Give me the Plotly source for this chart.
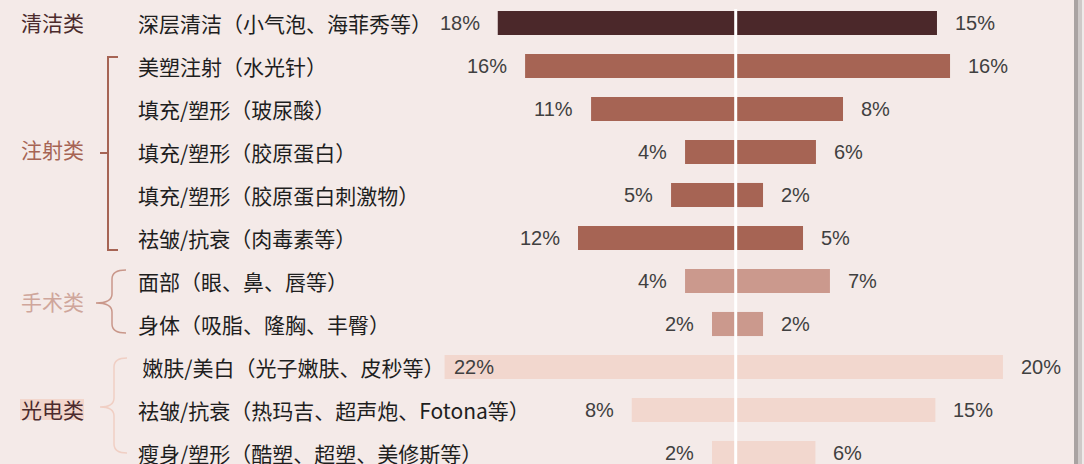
import plotly.graph_objects as go

# ---------------- data ----------------
row_labels = [
    "深层清洁（小气泡、海菲秀等）",
    "美塑注射（水光针）",
    "填充/塑形（玻尿酸）",
    "填充/塑形（胶原蛋白）",
    "填充/塑形（胶原蛋白刺激物）",
    "祛皱/抗衰（肉毒素等）",
    "面部（眼、鼻、唇等）",
    "身体（吸脂、隆胸、丰臀）",
    "\u2009嫩肤/美白（光子嫩肤、皮秒等）",
    "祛皱/抗衰（热玛吉、超声炮、Fotona等）",
    "瘦身/塑形（酷塑、超塑、美修斯等）",
]
row_group = ["清洁类", "注射类", "注射类", "注射类", "注射类", "注射类",
             "手术类", "手术类", "光电类", "光电类", "光电类"]
left_values = [17.85, 15.8, 10.85, 3.8, 4.85, 11.83, 3.8, 1.78, 21.84, 7.8, 1.78]
right_values = [15.1, 16.08, 8.05, 6.02, 2.05, 5.05, 7.07, 2.05, 20.05, 14.98, 5.98]
group_names = ["清洁类", "注射类", "手术类", "光电类"]

# ---------------- style ----------------
W, H = 1084, 464
BG = "#F4EAE8"
group_colors = {"清洁类": "#4B282A", "注射类": "#A66454",
                "手术类": "#CB998D", "光电类": "#F2D7CE"}
group_text_colors = {"清洁类": "#4B2A2C", "注射类": "#A66454",
                     "手术类": "#CFA69B", "光电类": "#4B2A2C"}
PX_PER_UNIT = 13.33
ZERO_PX = 735.7
ROW0_PX = 23.0
ROW_STEP = 43.0

x_min = -ZERO_PX / PX_PER_UNIT
x_max = (W - ZERO_PX) / PX_PER_UNIT
y_top = -ROW0_PX / ROW_STEP
y_bot = (H - ROW0_PX) / ROW_STEP

def px(x):
    return x / W

def py(y):
    return 1 - y / H

n = len(row_labels)
ys = list(range(n))
colors = [group_colors[g] for g in row_group]

fig = go.Figure()
fig.add_trace(go.Bar(y=ys, x=[-v for v in left_values], orientation="h",
                     marker=dict(color=colors, line=dict(width=0)),
                     width=0.56, hoverinfo="skip", showlegend=False))
fig.add_trace(go.Bar(y=ys, x=right_values, orientation="h",
                     marker=dict(color=colors, line=dict(width=0)),
                     width=0.56, hoverinfo="skip", showlegend=False))

annotations = []
num_font = dict(family="Liberation Sans, Arial", size=20, color="#404040")
for i in range(n):
    lv, rv = left_values[i], right_values[i]
    if lv > 20:
        annotations.append(dict(x=-lv, y=i, xref="x", yref="y", text=f"{lv:.0f}%",
                                showarrow=False, xanchor="left", xshift=7,
                                font=num_font))
    else:
        annotations.append(dict(x=-lv, y=i, xref="x", yref="y", text=f"{lv:.0f}%",
                                showarrow=False, xanchor="right", xshift=-16,
                                font=num_font))
    annotations.append(dict(x=rv, y=i, xref="x", yref="y", text=f"{rv:.0f}%",
                            showarrow=False, xanchor="left", xshift=16,
                            font=num_font))
    annotations.append(dict(x=px(136), y=i, xref="paper", yref="y", text=row_labels[i],
                            showarrow=False, xanchor="left",
                            font=dict(family="Noto Sans CJK SC", size=21, color="#1E1E1E")))

# group labels
group_y = {"清洁类": 22, "注射类": 149, "手术类": 301, "光电类": 409}
for g in group_names:
    annotations.append(dict(x=px(19), y=py(group_y[g]), xref="paper", yref="paper",
                            text=g, showarrow=False, xanchor="left", yanchor="middle",
                            font=dict(family="Noto Sans CJK SC", size=21,
                                      color=group_text_colors[g])))

shapes = []
# highlight box behind 光电类
shapes.append(dict(type="rect", xref="paper", yref="paper", x0=px(20), x1=px(84),
                   y0=py(420), y1=py(399), fillcolor="#F2D6CC", line=dict(width=0),
                   layer="below"))
# center white line
shapes.append(dict(type="line", xref="x", yref="paper", x0=0, x1=0, y0=0, y1=py(9),
                   line=dict(color="#FFFFFF", width=3)))

# injection square bracket
c = group_colors["注射类"]
shapes.append(dict(type="path", xref="paper", yref="paper",
                   path=f"M {px(118)},{py(57)} L {px(108)},{py(57)} L {px(108)},{py(250)} L {px(118)},{py(250)}",
                   line=dict(color=c, width=2)))
shapes.append(dict(type="line", xref="paper", yref="paper", x0=px(100), x1=px(108),
                   y0=py(153), y1=py(153), line=dict(color=c, width=2)))

def brace(x_end, x_v, x_tip, y0, ymid, y1, color):
    r = 9
    p = (f"M {px(x_end)},{py(y0)} Q {px(x_v)},{py(y0)} {px(x_v)},{py(y0 + r)} "
         f"L {px(x_v)},{py(ymid - r)} Q {px(x_v)},{py(ymid)} {px(x_tip)},{py(ymid)} "
         f"Q {px(x_v)},{py(ymid)} {px(x_v)},{py(ymid + r)} "
         f"L {px(x_v)},{py(y1 - r)} Q {px(x_v)},{py(y1)} {px(x_end)},{py(y1)}")
    return dict(type="path", xref="paper", yref="paper", path=p,
                line=dict(color=color, width=1.5))

shapes.append(brace(126, 112, 96, 270, 303, 333, "#C9978A"))
shapes.append(brace(127, 114, 100, 358, 407, 453, "#F0CFC4"))

# right edge shadow
shapes.append(dict(type="rect", xref="paper", yref="paper", x0=px(1074), x1=px(1078),
                   y0=0, y1=1, fillcolor="#A9A3A2", line=dict(width=0)))
shapes.append(dict(type="rect", xref="paper", yref="paper", x0=px(1078), x1=px(1082),
                   y0=0, y1=1, fillcolor="#CEC9C8", line=dict(width=0)))
shapes.append(dict(type="rect", xref="paper", yref="paper", x0=px(1082), x1=1,
                   y0=0, y1=1, fillcolor="#EEEAE9", line=dict(width=0)))

fig.update_layout(
    width=W, height=H,
    margin=dict(l=0, r=0, t=0, b=0),
    paper_bgcolor=BG, plot_bgcolor=BG,
    barmode="overlay",
    xaxis=dict(range=[x_min, x_max], visible=False, fixedrange=True),
    yaxis=dict(range=[y_bot, y_top], visible=False, fixedrange=True),
    annotations=annotations,
    shapes=shapes,
    showlegend=False,
)

fig.write_html("out.html", config={"displayModeBar": False},
               post_script="document.body.style.margin='0px';document.body.style.overflow='hidden';")
